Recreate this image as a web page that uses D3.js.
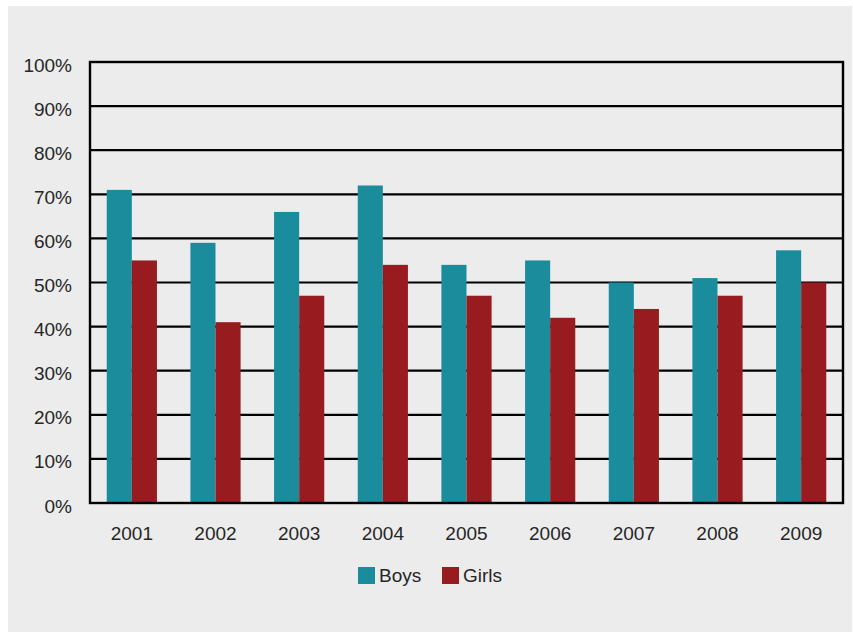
<!DOCTYPE html>
<html>
<head>
<meta charset="utf-8">
<script src="https://cdn.jsdelivr.net/npm/d3@7"></script>
<style>
  html, body { margin: 0; padding: 0; background: #ffffff; }
  svg { display: block; }
  text { font-family: "Liberation Sans", Arial, Helvetica, sans-serif; fill: #262626; }
</style>
</head>
<body>
<svg id="chart" width="853" height="632"></svg>
<script>
const years = ["2001","2002","2003","2004","2005","2006","2007","2008","2009"];
const seriesNames = ["Boys", "Girls"];
const boys  = [71, 59, 66, 72, 54, 55, 50, 51, 57.3];
const girls = [55, 41, 47, 54, 47, 42, 44, 47, 50];
const yTicks = [0, 10, 20, 30, 40, 50, 60, 70, 80, 90, 100];
const colors = ["#1a8c9c", "#971b1f"];

const svg = d3.select("#chart");

// panel background
svg.append("rect").attr("x", 8).attr("y", 6).attr("width", 844).attr("height", 626).attr("fill", "#ececec");

const mLeft = 90, mRight = 843, mTop = 62, mBottom = 503;

const x0 = d3.scaleBand().domain(years).range([mLeft, mRight]).paddingInner(0.4).paddingOuter(0.2);
const x1 = d3.scaleBand().domain(seriesNames).range([0, x0.bandwidth()]);
const y = d3.scaleLinear().domain([0, 100]).range([mBottom, mTop]);

// gridlines
svg.append("g").selectAll("line").data(yTicks).join("line")
  .attr("x1", mLeft).attr("x2", mRight)
  .attr("y1", d => y(d)).attr("y2", d => y(d))
  .attr("stroke", "#000").attr("stroke-width", 2.2);

// bars
const data = years.map((yr, i) => ({ year: yr, values: [boys[i], girls[i]] }));
const groups = svg.append("g").selectAll("g").data(data).join("g")
  .attr("transform", d => `translate(${x0(d.year)},0)`);
groups.selectAll("rect").data(d => d.values.map((v, j) => ({ name: seriesNames[j], v, j })))
  .join("rect")
  .attr("x", d => x1(d.name))
  .attr("width", x1.bandwidth())
  .attr("y", d => y(d.v))
  .attr("height", d => y(0) - y(d.v))
  .attr("fill", d => colors[d.j]);

// frame
svg.append("rect").attr("x", mLeft).attr("y", mTop).attr("width", mRight - mLeft).attr("height", mBottom - mTop)
  .attr("fill", "none").attr("stroke", "#000").attr("stroke-width", 2.4);

// y axis labels
const yAxis = d3.axisLeft(y).tickValues(yTicks).tickFormat(d => d + "%").tickSize(0).tickPadding(18);
const yg = svg.append("g").attr("transform", `translate(${mLeft},3)`).call(yAxis);
yg.select(".domain").remove();
yg.selectAll("text").attr("font-size", 19).attr("fill", "#262626")
  .style("font-family", "'Liberation Sans', Arial, sans-serif");

// x axis labels
const xAxis = d3.axisBottom(x0).tickSize(0).tickPadding(24);
const xg = svg.append("g").attr("transform", `translate(0,${mBottom})`).call(xAxis);
xg.select(".domain").remove();
xg.selectAll("text").attr("font-size", 19).attr("fill", "#262626")
  .style("font-family", "'Liberation Sans', Arial, sans-serif");

// legend
const legendX = [358, 442];
const lg = svg.append("g").selectAll("g").data(seriesNames).join("g")
  .attr("transform", (d, i) => `translate(${legendX[i]},567)`);
lg.append("rect").attr("width", 17).attr("height", 17).attr("fill", (d, i) => colors[i]);
lg.append("text").attr("x", 21).attr("y", 15).attr("font-size", 19).text(d => d);
</script>
</body>
</html>
